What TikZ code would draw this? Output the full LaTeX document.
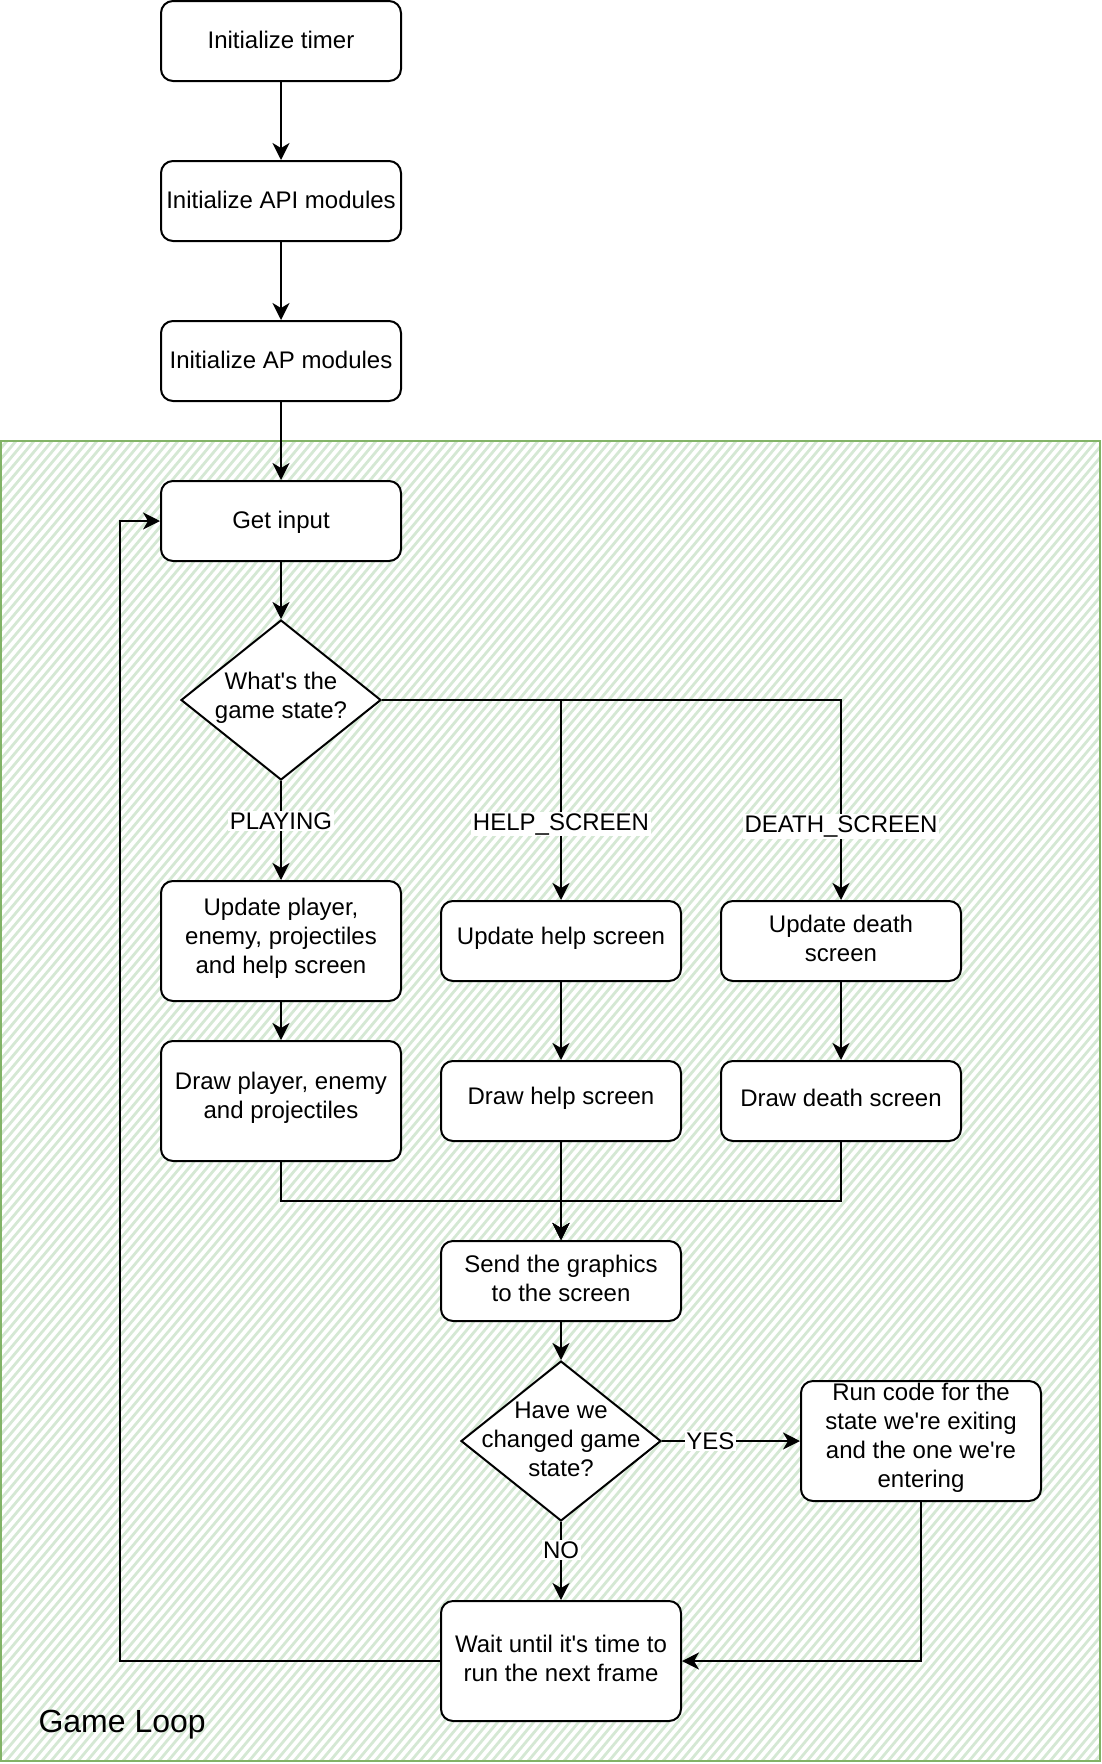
\documentclass[tikz,border=0pt]{standalone}
\usepackage{fontspec}
\newfontfamily\arial{Liberation Sans}
\usetikzlibrary{arrows.meta,shapes.geometric}
\definecolor{gstroke}{HTML}{82B366}
\definecolor{gfill}{HTML}{D5E8D4}
\begin{document}
\begin{tikzpicture}[x=1pt,y=-1pt,
  txt/.style={font=\arial\fontsize{24}{29}\selectfont,align=center},
  box/.style={draw,line width=2pt,rounded corners=12pt,fill=white,minimum width=240pt,minimum height=80pt,inner sep=0pt},
  tall/.style={box,minimum height=120pt},
  dec/.style={draw,diamond,line width=2pt,fill=white,minimum width=200pt,minimum height=160pt,inner sep=0pt},
  inbox/.style={label={[txt,yshift=3pt]center:{#1}}},
  intop/.style 2 args={label={[txt,yshift=#2]center:{#1}}},
  indec/.style={label={[txt,yshift=2pt]center:{#1}}},
  arr/.style={line width=2pt,-{Stealth[length=17pt,width=17pt,inset=5pt]}},
  elabel/.style={fill=white,inner sep=1.5pt,font=\arial\fontsize{24}{29}\selectfont},
  hatch/.style={gfill,line width=2.8pt},
]
\useasboundingbox (0,0) rectangle (1102,1764);

% container
\begin{scope}
  \clip (1,441) rectangle (1100,1761);
  \fill[white] (1,441) rectangle (1100,1761);
  \foreach \i in {-1110,-1101,...,1100} \draw[hatch] (\i,1761) -- ++(1108,-1320);
\end{scope}
\draw[gstroke,line width=2.8pt] (1,441) rectangle (1100,1761);
\node[anchor=base west,font=\arial\fontsize{32}{38}\selectfont] (gl) at (35,1732) {Game Loop};

% nodes
\node[box,intop={Initialize timer}{1pt}] (timer) at (281,41) {};
\node[box,intop={Initialize API modules}{1pt}] (api) at (281,201) {};
\node[box,intop={Initialize AP modules}{1pt}] (ap) at (281,361) {};
\node[box,intop={Get input}{-1pt}] (input) at (281,521) {};
\node[dec,indec={What's the\\game state?}] (state) at (281,700) {};
\node[tall,inbox={Update player,\\enemy, projectiles\\and help screen}] (upplay) at (281,941) {};
\node[tall,inbox={Draw player, enemy\\and projectiles}] (drawplay) at (281,1101) {};
\node[box,inbox={Update help screen}] (uphelp) at (561,941) {};
\node[box,inbox={Draw help screen}] (drawhelp) at (561,1101) {};
\node[box,inbox={Update death\\screen}] (updeath) at (841,941) {};
\node[box,inbox={Draw death screen}] (drawdeath) at (841,1101) {};
\node[box,inbox={Send the graphics\\to the screen}] (send) at (561,1281) {};
\node[dec,indec={Have we\\changed game\\state?}] (changed) at (561,1441) {};
\node[tall,inbox={Run code for the\\state we're exiting\\and the one we're\\entering}] (runcode) at (921,1441) {};
\node[tall,inbox={Wait until it's time to\\run the next frame}] (wait) at (561,1661) {};
\coordinate (merge) at (561,1201);

% connectors
\draw[arr] (timer) -- (api);
\draw[arr] (api) -- (ap);
\draw[arr] (ap) -- (input);
\draw[arr] (input) -- (state);
\draw[arr] (state) -- node[elabel,pos=0.406]{PLAYING} (upplay);
\draw[arr] (state.east) -| node[elabel,pos=0.81]{HELP\_SCREEN} (uphelp.north);
\draw[arr] (state.east) -| node[elabel,pos=0.816]{DEATH\_SCREEN} (updeath.north);
\draw[arr] (upplay) -- (drawplay);
\draw[arr] (uphelp) -- (drawhelp);
\draw[arr] (updeath) -- (drawdeath);
\draw[arr] (drawplay.south) |- (merge) -- (send.north);
\draw[arr] (drawdeath.south) |- (merge) -- (send.north);
\draw[arr] (drawhelp) -- (send);
\draw[arr] (send) -- (changed);
\draw[arr] (changed) -- node[elabel,pos=0.35]{YES} (runcode);
\draw[arr] (changed) -- node[elabel,pos=0.36]{NO} (wait);
\draw[arr] (runcode.south) |- (wait.east);
\draw[arr] (wait.west) -- ++(-320,0) |- (input.west);
\end{tikzpicture}
\end{document}
